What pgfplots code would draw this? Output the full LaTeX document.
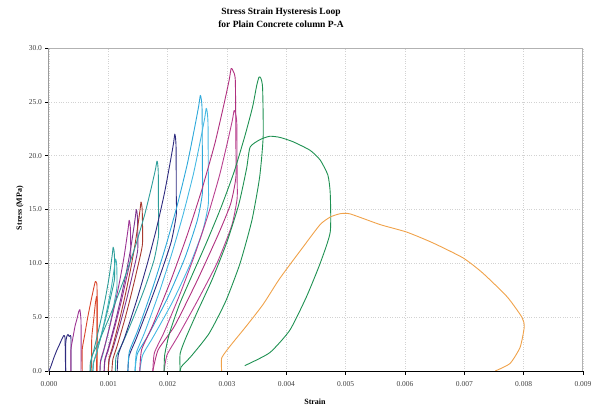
\documentclass[border=0pt]{standalone}
\usepackage{pgfplots}
\pgfplotsset{compat=1.18}
\usepackage{fontspec}
\setmainfont{Liberation Serif}
\definecolor{cnavy}{HTML}{2E2B7F}
\definecolor{cpurple}{HTML}{9C3393}
\definecolor{cred}{HTML}{D9452B}
\definecolor{cteal}{HTML}{2E9E9A}
\definecolor{caqua}{HTML}{40B4B8}
\definecolor{cpurple2}{HTML}{7D3590}
\definecolor{cbrown}{HTML}{A83A2F}
\definecolor{ccyan}{HTML}{2DA8DA}
\definecolor{ccyan2}{HTML}{45B9E3}
\definecolor{cmag}{HTML}{B0307F}
\definecolor{cmag2}{HTML}{B83F8F}
\definecolor{cgreen}{HTML}{1F9152}
\definecolor{corange}{HTML}{F0A24A}
\definecolor{ctick}{HTML}{404040}
\begin{document}
\begin{tikzpicture}[x=1pt,y=1pt]
\begin{axis}[
  at={(0,0)}, anchor=origin,
  scale only axis, width=534pt, height=323pt,
  xmin=0, xmax=0.009, ymin=0, ymax=30,
  xtick={0,0.001,0.002,0.003,0.004,0.005,0.006,0.007,0.008,0.009},
  xticklabels={0.000,0.001,0.002,0.003,0.004,0.005,0.006,0.007,0.008,0.009},
  ytick={0,5,10,15,20,25,30},
  yticklabels={0.0,5.0,10.0,15.0,20.0,25.0,30.0},
  scaled x ticks=false,
  tick pos=left, tick align=outside,
  major tick length=3.5pt,
  tick style={black, line width=0.6pt},
  ticklabel style={font=\fontsize{7.5}{9}\selectfont, text=ctick},
  xticklabel style={yshift=-3pt},
  grid=major,
  major grid style={dotted, gray!35, line width=0.5pt},
  axis line style={draw=gray!60, line width=1pt},
  clip=true,
  every axis plot/.append style={line width=0.9pt, line join=round, smooth, tension=0.35},
]
\addplot[cnavy] coordinates {(0,0)(0.00003,0.4)(0.00008,1.2)(0.00013,1.9)(0.00018,2.5)(0.00022,3.0)(0.00025,3.3)(0.00027,3.1)(0.000275,1.5)(0.00028,0)};
\addplot[cnavy] coordinates {(0.00028,0)(0.00028,2.5)(0.0003,3.2)(0.00032,3.4)(0.00034,3.2)(0.00036,3.3)(0.00037,3.0)(0.00037,0)};
\addplot[cpurple] coordinates {(0.00037,0)(0.00037,2.0)(0.0004,3.0)(0.00044,4.2)(0.00047,4.8)(0.0005,5.5)(0.00052,5.7)(0.00053,5.3)(0.00054,4.5)(0.00054,0)};
\addplot[cred] coordinates {(0.00056,0)(0.00056,2.0)(0.0006,3.3)(0.00065,4.9)(0.0007,6.3)(0.00075,7.6)(0.00078,8.3)(0.0008,8.2)(0.00081,7.5)(0.00081,0)};
\addplot[cred] coordinates {(0.00072,0)(0.00072,3.0)(0.00075,4.6)(0.00078,6.2)(0.0008,6.9)(0.00081,6.6)(0.00081,3.0)(0.0008,0)};
\addplot[cteal] coordinates {(0.00069,0)(0.000698,0.8)(0.000745,1.7)(0.000823,3.5)(0.000893,5.2)(0.000955,6.9)(0.00101,8.6)(0.001049,10.1)(0.001071,11.0)(0.00108,11.5)(0.001092,11.3)(0.001102,10.8)(0.001105,8.6)(0.001041,6.9)(0.00097,5.2)(0.000891,3.5)(0.000804,1.7)(0.000752,0.8)(0.00074,0)};
\addplot[caqua] coordinates {(0.00074,0)(0.000748,0.73)(0.000793,1.56)(0.000869,3.12)(0.000938,4.68)(0.000998,6.24)(0.001052,7.8)(0.00109,9.15)(0.001111,9.98)(0.00112,10.4)(0.001132,10.24)(0.001142,9.78)(0.001145,7.8)(0.001096,6.24)(0.001042,4.68)(0.000978,3.12)(0.000908,1.56)(0.000865,0.73)(0.00086,0)};
\addplot[cpurple] coordinates {(0.00086,0)(0.00087,0.98)(0.000929,2.1)(0.001027,4.2)(0.001115,6.3)(0.001193,8.4)(0.001262,10.5)(0.001311,12.32)(0.001339,13.44)(0.00135,14.0)(0.001362,13.79)(0.001372,13.16)(0.001375,10.5)(0.001297,8.4)(0.001211,6.3)(0.001114,4.2)(0.001008,2.1)(0.000944,0.98)(0.00093,0)};
\addplot[cpurple2] coordinates {(0.00093,0)(0.000941,1.05)(0.001006,2.25)(0.001114,4.5)(0.001211,6.75)(0.001297,9.0)(0.001373,11.25)(0.001427,13.2)(0.001458,14.4)(0.00147,15.0)(0.001482,14.78)(0.001492,14.1)(0.001495,11.25)(0.001409,9.0)(0.001312,6.75)(0.001205,4.5)(0.001086,2.25)(0.001016,1.05)(0.001,0)};
\addplot[cbrown] coordinates {(0.001,0)(0.001011,1.1)(0.001077,2.36)(0.001187,4.71)(0.001286,7.07)(0.001374,9.42)(0.001451,11.78)(0.001506,13.82)(0.001537,15.07)(0.00155,15.7)(0.001562,15.46)(0.001572,14.76)(0.001575,11.78)(0.001485,9.42)(0.001384,7.07)(0.001273,4.71)(0.00115,2.36)(0.001077,1.1)(0.00106,0)};
\addplot[cteal] coordinates {(0.0007,0)(0.000722,1.37)(0.000857,2.93)(0.001081,5.85)(0.001282,8.78)(0.001462,11.7)(0.001618,14.63)(0.00173,17.16)(0.001794,18.72)(0.00182,19.5)(0.001832,19.21)(0.001842,18.33)(0.001845,14.63)(0.001845,12.5)(0.00177,10.3)(0.00162,7.8)(0.00144,5.2)(0.00125,2.7)(0.00113,1.3)(0.00112,0)};
\addplot[cnavy] coordinates {(0.00115,0)(0.001169,1.54)(0.001286,3.3)(0.00148,6.6)(0.001654,9.9)(0.00181,13.2)(0.001945,16.5)(0.002042,19.36)(0.002098,21.12)(0.00212,22.0)(0.002132,21.67)(0.002142,20.68)(0.002145,16.5)(0.002145,14.5)(0.00206,12.0)(0.00188,9.0)(0.00168,6.0)(0.00147,3.0)(0.00135,1.4)(0.00133,0)};
\addplot[ccyan] coordinates {(0.00133,0)(0.001354,1.79)(0.001501,3.84)(0.001745,7.68)(0.001964,11.52)(0.00216,15.36)(0.00233,19.2)(0.002452,22.53)(0.002522,24.58)(0.00255,25.6)(0.002565,25.3)(0.00258,24.3)(0.002585,19.2)(0.002585,16.5)(0.0025,14.0)(0.00229,10.5)(0.002,6.8)(0.00168,3.4)(0.00149,1.6)(0.00145,0)};
\addplot[ccyan2] coordinates {(0.00145,0)(0.001474,1.71)(0.001618,3.66)(0.001858,7.32)(0.002074,10.98)(0.002266,14.64)(0.002434,18.3)(0.002554,21.47)(0.002622,23.42)(0.00265,24.4)(0.002665,24.1)(0.00268,23.0)(0.002685,18.3)(0.002685,15.5)(0.00259,13.0)(0.00237,9.8)(0.00208,6.4)(0.00176,3.2)(0.00158,1.5)(0.00153,0)};
\addplot[cmag] coordinates {(0.00153,0)(0.001561,1.97)(0.001746,4.22)(0.002054,8.43)(0.002331,12.65)(0.002577,16.86)(0.002793,21.08)(0.002947,24.73)(0.003035,26.98)(0.00307,28.1)(0.0031,27.9)(0.00314,27.0)(0.00315,21.08)(0.00315,18.0)(0.00306,15.5)(0.00285,12.65)(0.0025,8.43)(0.00212,4.22)(0.00184,1.97)(0.00175,0)};
\addplot[cmag2] coordinates {(0.00175,0)(0.001777,1.69)(0.001942,3.63)(0.002216,7.26)(0.002462,10.89)(0.002682,14.52)(0.002873,18.15)(0.00301,21.3)(0.003088,23.23)(0.00312,24.2)(0.00314,24.0)(0.003165,23.0)(0.00317,18.15)(0.00317,16.0)(0.00308,13.5)(0.00283,10.0)(0.0025,6.5)(0.00218,3.3)(0.00199,1.5)(0.00194,0)};
\addplot[cgreen] coordinates {(0.00194,0)(0.00195,1.5)(0.00203,3.5)(0.0022,6.2)(0.00242,9.0)(0.00266,12.0)(0.0029,15.2)(0.00312,18.5)(0.0033,21.8)(0.00343,24.5)(0.0035,26.5)(0.00354,27.3)(0.00357,27.2)(0.0036,26.3)(0.00361,21.8)(0.00355,18.0)(0.00342,14.0)(0.00322,10.0)(0.00298,6.5)(0.0027,3.5)(0.0024,1.4)(0.00223,0.4)(0.00221,0)};
\addplot[cgreen] coordinates {(0.00221,0)(0.00221,1.6)(0.0023,3.0)(0.0025,5.5)(0.00275,8.5)(0.003,12.0)(0.0032,15.5)(0.00333,18.8)(0.00339,20.8)(0.00356,21.5)(0.00372,21.8)(0.00389,21.7)(0.00411,21.3)(0.0044,20.5)(0.00457,19.6)(0.0047,18.2)(0.00474,16.5)(0.00474,12.9)(0.00457,10.0)(0.00434,6.9)(0.00406,3.8)(0.00372,1.7)(0.0033,0.5)};
\addplot[corange] coordinates {(0.00291,0)(0.00291,1.2)(0.00305,2.3)(0.00333,4.2)(0.00361,6.2)(0.00389,8.6)(0.00428,11.5)(0.00457,13.6)(0.00474,14.3)(0.0049,14.6)(0.00507,14.6)(0.00558,13.6)(0.00603,12.9)(0.00647,11.9)(0.00698,10.5)(0.00731,9.1)(0.00772,6.9)(0.00797,5.0)(0.00801,4.1)(0.00794,2.2)(0.00777,0.7)(0.00752,0)};
\draw[black, line width=1pt] (rel axis cs:0,1) -- (rel axis cs:0,0) -- (rel axis cs:1,0);
\end{axis}
\node[font=\bfseries\fontsize{9.5}{12.5}\selectfont, align=center] at (232pt,353pt) {Stress Strain Hysteresis Loop\\for Plain Concrete column P-A};
\node[font=\bfseries\fontsize{8}{10}\selectfont, rotate=90] at (-29pt,163pt) {Stress (MPa)};
\node[font=\bfseries\fontsize{8}{10}\selectfont] at (266pt,-31pt) {Strain};
\path[use as bounding box] (-49pt,-39pt) rectangle (548pt,371pt);
\end{tikzpicture}
\end{document}
